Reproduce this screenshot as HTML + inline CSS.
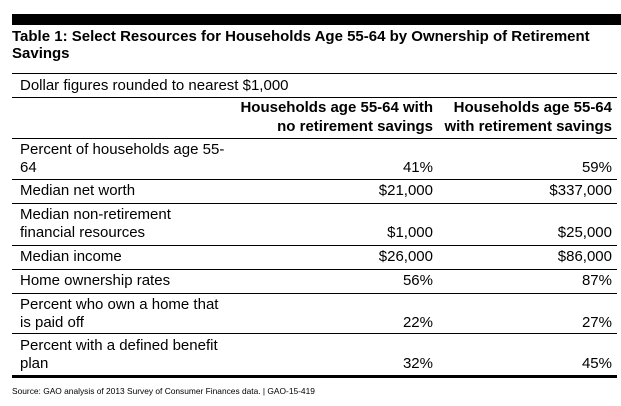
<!DOCTYPE html>
<html><head><meta charset="utf-8"><style>
body{margin:0;width:621px;height:406px;background:#fff;position:relative;overflow:hidden;font-family:"Liberation Sans",Arial,sans-serif;color:#000}
.t{position:absolute;font-size:15px;line-height:18px;white-space:nowrap;margin-top:1px}
.b{font-weight:bold}
.r{position:absolute;left:12px;width:605px;height:1px;background:#000}
.c1{right:188px;text-align:right}
.c2{right:9px;text-align:right}
.l{left:20px}
</style></head><body>
<div style="position:absolute;left:12px;top:14px;width:609px;height:11px;background:#000"></div>
<div class="t b" style="left:12px;top:27px">Table 1: Select Resources for Households Age 55-64 by Ownership of Retirement</div>
<div class="t b" style="left:12px;top:44px">Savings</div>
<div class="r" style="top:73px"></div>
<div class="t l" style="top:76px">Dollar figures rounded to nearest $1,000</div>
<div class="r" style="top:97px"></div>
<div class="t b c1" style="top:98px">Households age 55-64 with</div>
<div class="t b c1" style="top:117px">no retirement savings</div>
<div class="t b c2" style="top:98px">Households age 55-64</div>
<div class="t b c2" style="top:117px">with retirement savings</div>
<div class="r" style="top:138px"></div>
<div class="t l" style="top:140px">Percent of households age 55-</div>
<div class="t l" style="top:158px">64</div>
<div class="t c1" style="top:158px">41%</div><div class="t c2" style="top:158px">59%</div>
<div class="r" style="top:179px"></div>
<div class="t l" style="top:181px">Median net worth</div>
<div class="t c1" style="top:181px">$21,000</div><div class="t c2" style="top:181px">$337,000</div>
<div class="r" style="top:203px"></div>
<div class="t l" style="top:205px">Median non-retirement</div>
<div class="t l" style="top:223px">financial resources</div>
<div class="t c1" style="top:223px">$1,000</div><div class="t c2" style="top:223px">$25,000</div>
<div class="r" style="top:245px"></div>
<div class="t l" style="top:247px">Median income</div>
<div class="t c1" style="top:247px">$26,000</div><div class="t c2" style="top:247px">$86,000</div>
<div class="r" style="top:269px"></div>
<div class="t l" style="top:271px">Home ownership rates</div>
<div class="t c1" style="top:271px">56%</div><div class="t c2" style="top:271px">87%</div>
<div class="r" style="top:293px"></div>
<div class="t l" style="top:295px">Percent who own a home that</div>
<div class="t l" style="top:313px">is paid off</div>
<div class="t c1" style="top:313px">22%</div><div class="t c2" style="top:313px">27%</div>
<div class="r" style="top:333px"></div>
<div class="t l" style="top:336px">Percent with a defined benefit</div>
<div class="t l" style="top:354px">plan</div>
<div class="t c1" style="top:354px">32%</div><div class="t c2" style="top:354px">45%</div>
<div class="r" style="top:375px;height:3px"></div>
<div class="t" style="left:12px;top:384px;font-size:8.4px;line-height:12px">Source: GAO analysis of 2013 Survey of Consumer Finances data. | GAO-15-419</div>
</body></html>
